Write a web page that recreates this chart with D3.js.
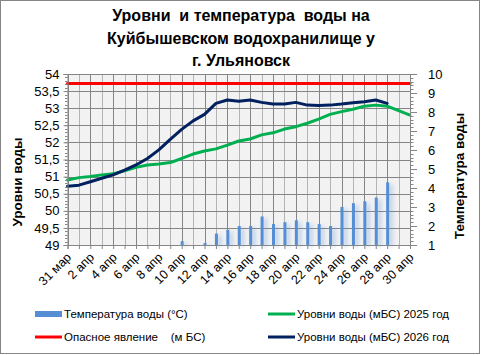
<!DOCTYPE html>
<html><head><meta charset="utf-8">
<script src="https://cdn.jsdelivr.net/npm/d3@7/dist/d3.min.js"></script>
<style>
html,body{margin:0;padding:0;background:#fff;}
svg text{font-family:"Liberation Sans",Arial,sans-serif;fill:#000;}
</style></head>
<body>
<svg id="chart" width="481" height="355"></svg>
<script>
const categories = ["31 мар","1 апр","2 апр","3 апр","4 апр","5 апр","6 апр","7 апр","8 апр","9 апр","10 апр",
  "11 апр","12 апр","13 апр","14 апр","15 апр","16 апр","17 апр","18 апр","19 апр","20 апр",
  "21 апр","22 апр","23 апр","24 апр","25 апр","26 апр","27 апр","28 апр","29 апр","30 апр"];
const tempWater = [null,null,null,null,null,null,null,null,null,null,1.2,
  null,1.1,1.6,1.8,2.0,2.0,2.5,2.1,2.2,2.3,
  2.2,2.1,2.0,3.0,3.2,3.3,3.5,4.3,null,null];
const level2025 = [50.90,50.97,51.00,51.05,51.08,51.17,51.27,51.34,51.37,51.41,51.53,
  51.66,51.75,51.81,51.92,52.04,52.10,52.22,52.28,52.39,52.46,
  52.56,52.68,52.82,52.90,52.97,53.06,53.09,53.06,52.93,52.80];
const level2026 = [50.72,50.75,50.85,50.95,51.05,51.19,51.34,51.53,51.78,52.09,52.38,
  52.63,52.82,53.14,53.24,53.20,53.24,53.17,53.12,53.12,53.17,
  53.09,53.08,53.09,53.12,53.16,53.19,53.24,53.14,null,null];
const dangerLevel = categories.map(() => 53.72);
const leftTicks = [49,49.5,50,50.5,51,51.5,52,52.5,53,53.5,54];
const rightTicks = [1,2,3,4,5,6,7,8,9,10];
const titleLines = ["Уровни  и температура  воды на","Куйбышевском водохранилище у","г. Ульяновск"];
const leftTitle = "Уровни воды";
const rightTitle = "Температура воды";
const legendItems = [
  {label:"Температура воды (°C)", type:"bar", color:"#558ED5"},
  {label:"Опасное явление    (м БС)", type:"line", color:"#FF0000"},
  {label:"Уровни воды (мБС) 2025 год", type:"line", color:"#00B050"},
  {label:"Уровни воды (мБС) 2026 год", type:"line", color:"#002060"}
];

const svg = d3.select("#chart");
const L = 67.5, R = 410, T = 74, B = 245;
const x = d3.scalePoint().domain(categories).range([L, R]).padding(0);
const yL = d3.scaleLinear().domain([49,54]).range([B, T]);
const yR = d3.scaleLinear().domain([1,10]).range([B, T]);

// outer border
svg.append("rect").attr("x",0.5).attr("y",0.5).attr("width",479).attr("height",353)
  .attr("fill","#fff").attr("stroke","#868686");

// defs: bar glow
const defs = svg.append("defs");
const f = defs.append("filter").attr("id","glow").attr("x","-200%").attr("y","-20%").attr("width","600%").attr("height","140%");
f.append("feGaussianBlur").attr("in","SourceGraphic").attr("stdDeviation","2").attr("result","b");
f.append("feOffset").attr("in","b").attr("dx","3").attr("dy","2").attr("result","o");
f.append("feComponentTransfer").attr("in","o").attr("result","oa")
  .append("feFuncA").attr("type","linear").attr("slope","0.45");
const fm = f.append("feMerge");
fm.append("feMergeNode").attr("in","oa");
fm.append("feMergeNode").attr("in","SourceGraphic");

// plot background
svg.append("rect").attr("x",L).attr("y",T).attr("width",R-L).attr("height",B-T).attr("fill","#F2F2F2");

// vertical gridlines
svg.append("g").selectAll("line").data(categories).join("line")
  .attr("x1",d=>Math.round(x(d))+0.5).attr("x2",d=>Math.round(x(d))+0.5)
  .attr("y1",T).attr("y2",B)
  .attr("stroke",(d,i)=> i%2===0 ? "#858585" : "#B4B4B4").attr("stroke-width",1);

// horizontal gridlines
svg.append("g").selectAll("line").data(leftTicks).join("line")
  .attr("x1",L).attr("x2",R)
  .attr("y1",d=>Math.round(yL(d))+0.5).attr("y2",d=>Math.round(yL(d))+0.5)
  .attr("stroke","#858585").attr("stroke-width",1);

// bars
svg.append("g").attr("filter","url(#glow)").selectAll("rect")
  .data(tempWater.map((v,i)=>({c:categories[i],v})).filter(d=>d.v!=null)).join("rect")
  .attr("x",d=>x(d.c)-1).attr("width",3)
  .attr("y",d=>yR(d.v)).attr("height",d=>yR(1)-yR(d.v))
  .attr("fill","#558ED5");

// lines
function drawLine(vals,color){
  const line = d3.line().defined(d=>d.v!=null).x(d=>x(d.c)).y(d=>yL(d.v));
  svg.append("path").datum(vals.map((v,i)=>({c:categories[i],v})))
    .attr("d",line).attr("fill","none").attr("stroke",color).attr("stroke-width",3)
    .attr("stroke-linejoin","round").attr("stroke-linecap","round");
}
drawLine(dangerLevel,"#FF0000");
drawLine(level2025,"#00B050");
drawLine(level2026,"#002060");

// left axis
const axL = svg.append("g").attr("transform",`translate(${L},0)`)
  .call(d3.axisLeft(yL).tickValues(leftTicks).tickSize(4).tickFormat(d=>String(d).replace(".",",")));
axL.select(".domain").attr("stroke","#868686");
axL.selectAll(".tick line").attr("stroke","#868686");
axL.selectAll("text").attr("font-size",13).attr("font-family","Liberation Sans, Arial, sans-serif").attr("x",-8);
// left minor ticks
svg.append("g").selectAll("line").data(d3.range(49,54.001,0.1)).join("line")
  .attr("x1",L-2.5).attr("x2",L).attr("y1",d=>Math.round(yL(d))+0.5).attr("y2",d=>Math.round(yL(d))+0.5)
  .attr("stroke","#868686");

// right axis
const axR = svg.append("g").attr("transform",`translate(${R},0)`)
  .call(d3.axisRight(yR).tickValues(rightTicks).tickSize(7));
axR.select(".domain").attr("stroke","#868686");
axR.selectAll(".tick line").attr("stroke","#868686");
axR.selectAll("text").attr("font-size",13).attr("font-family","Liberation Sans, Arial, sans-serif").attr("x",18);
svg.append("g").selectAll("line").data(d3.range(1,10.001,0.2)).join("line")
  .attr("x1",R).attr("x2",R+3.5).attr("y1",d=>Math.round(yR(d))+0.5).attr("y2",d=>Math.round(yR(d))+0.5)
  .attr("stroke","#868686");

// bottom axis
const axB = svg.append("g").attr("transform",`translate(0,${B})`)
  .call(d3.axisBottom(x).tickSize(4).tickFormat((d,i)=> i%2===0 ? d : ""));
axB.select(".domain").attr("stroke","#868686");
axB.selectAll(".tick line").attr("stroke","#868686");
axB.selectAll("text").attr("font-size",12.5).attr("font-family","Liberation Sans, Arial, sans-serif")
  .attr("text-anchor","end").attr("y",0).attr("dy",0)
  .attr("transform","translate(4,13) rotate(-45)");

// titles
svg.append("g").selectAll("text").data(titleLines).join("text")
  .attr("x",241).attr("y",(d,i)=>21+i*22.5).attr("text-anchor","middle").style("white-space","pre")
  .attr("font-size",16).attr("font-weight","bold").text(d=>d);
svg.append("text").attr("transform","translate(22,182) rotate(-90)").attr("text-anchor","middle")
  .attr("font-size",13.5).attr("font-weight","bold").text(leftTitle);
svg.append("text").attr("transform","translate(464,176) rotate(-90)").attr("text-anchor","middle")
  .attr("font-size",13.5).attr("font-weight","bold").text(rightTitle);

// legend
const legPos = [{x:35,y:314},{x:35,y:337},{x:268,y:314},{x:268,y:337}];
const lg = svg.append("g").selectAll("g").data(legendItems).join("g")
  .attr("transform",(d,i)=>`translate(${legPos[i].x},${legPos[i].y})`);
lg.each(function(d){
  const g = d3.select(this);
  if(d.type==="bar") g.append("rect").attr("x",0).attr("y",-3).attr("width",27).attr("height",6).attr("fill",d.color);
  else g.append("line").attr("x1",0).attr("x2",27).attr("y1",0).attr("y2",0).attr("stroke",d.color).attr("stroke-width",3);
  g.append("text").attr("x",29).attr("y",4).attr("font-size",11.5).style("white-space","pre").text(d.label);
});
</script>
</body></html>
